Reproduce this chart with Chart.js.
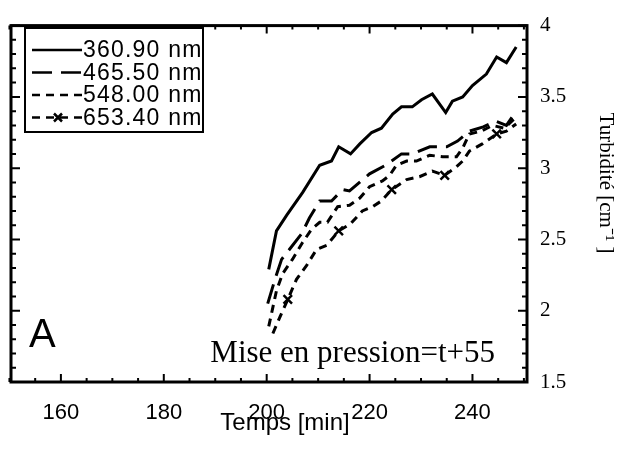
<!DOCTYPE html>
<html>
<head>
<meta charset="utf-8">
<script src="https://cdn.jsdelivr.net/npm/chart.js@4"></script>
<style>
  html, body { margin: 0; padding: 0; background: #fff; }
  #wrap { width: 637px; height: 452px; }
</style>
</head>
<body>
<div id="wrap"><canvas id="turbChart" width="637" height="452"></canvas></div>
<script>
// values
const seriesLabels = ["360.90 nm", "465.50 nm", "548.00 nm", "653.40 nm"];
const xTicks = [160, 180, 200, 220, 240];
const yTicks = [1.5, 2, 2.5, 3, 3.5, 4];

const t360 = [200.4, 201.9, 203.9, 207.0, 210.3, 212.6, 214.0, 216.3, 218.1, 220.4, 222.3, 224.5, 226.2, 228.3, 230.1, 232.2, 234.8, 236.1, 238.1, 240.0, 242.7, 244.7, 246.6, 248.5];
const v360 = [2.29, 2.56, 2.67, 2.83, 3.02, 3.05, 3.15, 3.10, 3.17, 3.25, 3.28, 3.38, 3.43, 3.43, 3.48, 3.52, 3.39, 3.47, 3.50, 3.58, 3.66, 3.78, 3.74, 3.85];

const t465 = [200.2, 201.7, 202.9, 206.8, 208.3, 210.3, 212.6, 214.8, 216.1, 220.0, 223.1, 226.2, 228.3, 231.7, 235.0, 237.1, 239.4, 242.1, 244.5, 246.6, 248.5];
const v465 = [2.05, 2.23, 2.36, 2.54, 2.65, 2.77, 2.77, 2.85, 2.84, 2.96, 3.02, 3.10, 3.10, 3.15, 3.15, 3.19, 3.26, 3.29, 3.33, 3.30, 3.40];

const t548 = [200.4, 201.9, 203.1, 205.0, 207.0, 208.7, 210.3, 211.8, 213.8, 216.1, 218.1, 220.0, 222.5, 223.9, 225.2, 227.2, 229.1, 231.7, 234.2, 236.9, 238.1, 239.4, 241.7, 243.9, 246.2, 248.5];
const v548 = [1.89, 2.14, 2.26, 2.36, 2.48, 2.57, 2.62, 2.62, 2.73, 2.74, 2.79, 2.87, 2.91, 2.95, 3.02, 3.05, 3.05, 3.09, 3.08, 3.08, 3.14, 3.24, 3.26, 3.30, 3.28, 3.36];

const t653 = [201.2, 202.5, 204.1, 205.8, 207.8, 209.7, 211.7, 214.0, 216.3, 218.6, 220.6, 222.3, 224.3, 227.2, 229.7, 232.2, 234.6, 236.9, 238.1, 239.4, 241.9, 244.7, 246.6, 248.5];
const v653 = [1.84, 1.95, 2.08, 2.22, 2.32, 2.43, 2.46, 2.56, 2.61, 2.70, 2.73, 2.77, 2.85, 2.92, 2.94, 2.98, 2.95, 3.01, 3.05, 3.12, 3.17, 3.24, 3.26, 3.31];

const markerIdx = [2, 7, 12, 16, 21];

function pts(xs, ys) {
  return xs.map((x, i) => ({ x: x, y: ys[i] }));
}

const serif = "'Liberation Serif', 'Times New Roman', serif";
const sans = "'Liberation Sans', Arial, sans-serif";

// frame, inward ticks, legend box and the free texts
const paperPlugin = {
  id: "paper",
  afterDatasetsDraw(chart) {
    const ctx = chart.ctx;
    const a = chart.chartArea;
    const xs = chart.scales.x;
    const ys = chart.scales.y;
    ctx.save();
    ctx.strokeStyle = "#000";
    ctx.lineWidth = 2;
    for (let v = 150; v <= 250; v += 5) {
      const px = xs.getPixelForValue(v);
      const len = v % 20 === 0 ? 8 : 4;
      ctx.beginPath();
      ctx.moveTo(px, a.bottom); ctx.lineTo(px, a.bottom - len);
      ctx.moveTo(px, a.top); ctx.lineTo(px, a.top + len);
      ctx.stroke();
    }
    for (let k = 15; k <= 40; k++) {
      const py = ys.getPixelForValue(k / 10);
      const len = k % 5 === 0 ? 9 : 5;
      ctx.beginPath();
      ctx.moveTo(a.right, py); ctx.lineTo(a.right - len, py);
      ctx.moveTo(a.left, py); ctx.lineTo(a.left + len, py);
      ctx.stroke();
    }
    ctx.lineWidth = 3;
    ctx.strokeRect(a.left, a.top, a.right - a.left, a.bottom - a.top);

    // legend
    ctx.lineWidth = 2;
    ctx.fillStyle = "#fff";
    ctx.fillRect(25, 28, 178, 104);
    ctx.strokeRect(25, 28, 178, 104);
    ctx.font = "23px " + sans;
    ctx.letterSpacing = "1.2px";
    ctx.textBaseline = "middle";
    ctx.fillStyle = "#000";
    chart.data.datasets.forEach((ds, i) => {
      const y = 50 + i * 22.5;
      ctx.save();
      ctx.lineWidth = 2.5;
      ctx.setLineDash(ds.borderDash || []);
      ctx.beginPath();
      ctx.moveTo(32, y); ctx.lineTo(82, y);
      ctx.stroke();
      ctx.restore();
      if (ds.pointStyle === "crossRot") {
        ctx.save();
        ctx.lineWidth = 2.5;
        ctx.beginPath();
        ctx.moveTo(54, y - 4); ctx.lineTo(62, y + 4);
        ctx.moveTo(62, y - 4); ctx.lineTo(54, y + 4);
        ctx.stroke();
        ctx.restore();
      }
      ctx.fillText(ds.label, 83, y + 1);
    });
    ctx.letterSpacing = "0px";

    // panel letter and note
    ctx.font = "40px " + sans;
    ctx.textBaseline = "alphabetic";
    ctx.textAlign = "left";
    ctx.fillText("A", 29, 347);
    ctx.font = "31px " + serif;
    ctx.textAlign = "right";
    ctx.fillText("Mise en pression=t+55", 495, 362);

    // axis titles
    ctx.textAlign = "center";
    ctx.font = "24px " + sans;
    ctx.fillText("Temps [min]", 285, 430);
    ctx.save();
    ctx.translate(606, 183);
    ctx.rotate(Math.PI / 2);
    ctx.font = "21px " + serif;
    ctx.textBaseline = "middle";
    ctx.fillText("Turbidité [cm\u207B\u00B9 ]", 0, 0);
    ctx.restore();
    ctx.restore();
  }
};

const ctx = document.getElementById("turbChart").getContext("2d");
const turbChart = new Chart(ctx, {
  type: "line",
  data: {
    datasets: [
      { label: seriesLabels[0], data: pts(t360, v360), borderColor: "#000", borderWidth: 3, pointRadius: 0 },
      { label: seriesLabels[1], data: pts(t465, v465), borderColor: "#000", borderWidth: 3, borderDash: [20, 9], pointRadius: 0 },
      { label: seriesLabels[2], data: pts(t548, v548), borderColor: "#000", borderWidth: 3, borderDash: [8, 6], pointRadius: 0 },
      {
        label: seriesLabels[3], data: pts(t653, v653), borderColor: "#000", borderWidth: 3, borderDash: [8, 6],
        pointStyle: "crossRot",
        pointRadius: (c) => markerIdx.includes(c.dataIndex) ? 6 : 0,
        pointBorderWidth: 2.5, pointBorderColor: "#000"
      }
    ]
  },
  options: {
    responsive: false,
    animation: false,
    layout: { padding: { left: 11, top: 20, right: 0, bottom: 0 } },
    plugins: { legend: { display: false }, tooltip: { enabled: false } },
    scales: {
      x: {
        type: "linear",
        min: 150.3,
        max: 250.6,
        afterBuildTicks: (s) => { s.ticks = xTicks.map((v) => ({ value: v })); },
        afterFit: (s) => { s.height = 70; },
        grid: { display: false, drawTicks: false },
        border: { display: false },
        ticks: { color: "#000", font: { family: sans, size: 22 }, padding: 18, maxRotation: 0 }
      },
      y: {
        type: "linear",
        position: "right",
        min: 1.5,
        max: 4,
        afterBuildTicks: (s) => { s.ticks = yTicks.map((v) => ({ value: v })); },
        afterFit: (s) => { s.width = 110; },
        grid: { display: false, drawTicks: false },
        border: { display: false },
        ticks: { color: "#000", font: { family: serif, size: 21 }, padding: 13, callback: (v) => String(v) }
      }
    }
  },
  plugins: [paperPlugin]
});
</script>
</body>
</html>
